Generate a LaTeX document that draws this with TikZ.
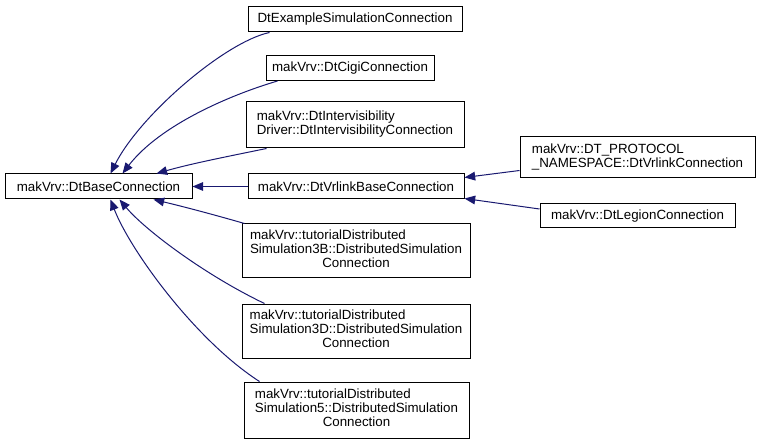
\documentclass[tikz,border=0pt]{standalone}
\usepackage{fontspec}
\setmainfont{Liberation Sans}
\usetikzlibrary{calc,arrows.meta}
\definecolor{edgeblue}{HTML}{191970}
\newcommand{\twoline}[2]{\begin{tabular}{@{}l@{}}#1\\#2\end{tabular}}
\newcommand{\threeline}[3]{\begin{tabular}{@{}l@{}}#1\\#2\\\multicolumn{1}{@{}c@{}}{#3}\end{tabular}}
\tikzset{
  cls/.style={draw,line width=0.75pt,fill=white,inner sep=0pt,align=center,minimum height=18.75pt,minimum width=#1},
  inh/.style={-{Triangle[length=8pt,width=6.5pt]},edgeblue,line width=0.75pt},
}
\begin{document}
\begin{tikzpicture}[x=0.75pt,y=-0.75pt,font=\fontsize{10}{10.5}\selectfont]
\useasboundingbox (0,0) rectangle (760,445);
\node[cls=140.25pt] (base) at (98.5,186.5) {makVrv::DtBaseConnection};
\node[cls=160.5pt] (ex) at (355,19.5) {DtExampleSimulationConnection};
\node[cls=126pt] (cigi) at (350,68) {makVrv::DtCigiConnection};
\node[cls=163.5pt,minimum height=34.5pt] (inter) at (355,125) {\twoline{makVrv::DtIntervisibility}{Driver::DtIntervisibilityConnection}};
\node[cls=162pt] (vrlb) at (356,186.5) {makVrv::DtVrlinkBaseConnection};
\node[cls=171pt,minimum height=40.5pt] (sim3b) at (356,251) {\threeline{makVrv::tutorialDistributed}{Simulation3B::DistributedSimulation}{Connection}};
\node[cls=171pt,minimum height=40.5pt] (sim3d) at (356,331) {\threeline{makVrv::tutorialDistributed}{Simulation3D::DistributedSimulation}{Connection}};
\node[cls=168.75pt,minimum height=42pt] (sim5) at (356.5,410) {\threeline{makVrv::tutorialDistributed}{Simulation5::DistributedSimulation}{Connection}};
\node[cls=176.25pt,minimum height=30.75pt] (dtp) at (637.5,157.5) {\twoline{makVrv::DT\_PROTOCOL}{\_NAMESPACE::DtVrlinkConnection}};
\node[cls=146.25pt,minimum height=18pt] (leg) at (637.5,216) {makVrv::DtLegionConnection};
\draw[inh] ($(ex.south west)+(22,0)$) .. controls (225,42) and (140,115) .. ($(base.north)+(12,0)$);
\draw[inh] ($(cigi.south west)+(12,0)$) .. controls (230,95) and (160,125) .. ($(base.north)+(24,0)$);
\draw[inh] ($(inter.south west)+(21,0)$) .. controls (220,158) and (190,164) .. ($(base.north)+(58,0)$);
\draw[inh] (vrlb) -- (base);
\draw[inh] ($(sim3b.north west)+(3,0)$) .. controls (215,215) and (185,207) .. ($(base.south)+(55,0)$);
\draw[inh] ($(sim3d.north west)+(23,0)$) .. controls (205,275) and (145,230) .. ($(base.south)+(21,0)$);
\draw[inh] ($(sim5.north west)+(16,0)$) .. controls (195,340) and (130,250) .. ($(base.south)+(12,0)$);
\draw[inh] ($(dtp.south west)+(0,-8)$) -- ($(vrlb.north east)+(0,4)$);
\draw[inh] ($(leg.west)+(0,-7)$) -- ($(vrlb.south east)+(0,-1)$);
\end{tikzpicture}
\end{document}
